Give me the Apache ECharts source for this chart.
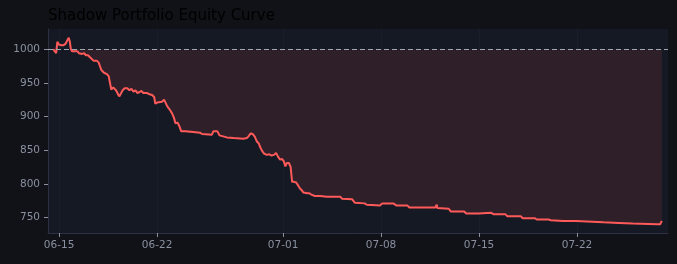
<!DOCTYPE html>
<html>
<head>
<meta charset="utf-8">
<script src="https://cdn.jsdelivr.net/npm/echarts@6/dist/echarts.min.js"></script>
<style>
html,body{margin:0;padding:0;background:#111217;}
#c{width:677px;height:264px;}
</style>
</head>
<body>
<div id="c"></div>
<script>
const title = 'Shadow Portfolio Equity Curve';
const baseline = 1000;
const times = [
'2025-06-14 14:00','2025-06-14 16:30','2025-06-14 19:00','2025-06-14 21:00','2025-06-14 23:30',
'2025-06-15 02:00','2025-06-15 04:00','2025-06-15 07:30','2025-06-15 11:00','2025-06-15 14:00',
'2025-06-15 16:30','2025-06-15 18:30','2025-06-15 20:00','2025-06-15 22:00','2025-06-16 01:30',
'2025-06-16 04:00','2025-06-16 07:30','2025-06-16 10:00','2025-06-16 12:00','2025-06-16 15:30',
'2025-06-16 19:00','2025-06-16 22:00','2025-06-17 01:30','2025-06-17 05:00','2025-06-17 07:30',
'2025-06-17 11:00','2025-06-17 16:30','2025-06-17 20:00','2025-06-17 22:00','2025-06-18 00:30',
'2025-06-18 03:00','2025-06-18 05:00','2025-06-18 07:30','2025-06-18 10:00','2025-06-18 13:00',
'2025-06-18 15:30','2025-06-18 17:30','2025-06-18 21:00','2025-06-19 00:30','2025-06-19 03:00',
'2025-06-19 05:00','2025-06-19 07:30','2025-06-19 10:00','2025-06-19 13:00','2025-06-19 16:30',
'2025-06-19 21:00','2025-06-20 00:30','2025-06-20 04:00','2025-06-20 07:30','2025-06-20 11:00',
'2025-06-20 14:00','2025-06-20 17:30','2025-06-20 21:00','2025-06-21 00:30','2025-06-21 06:30',
'2025-06-21 11:00','2025-06-21 15:30','2025-06-21 19:00','2025-06-21 21:00','2025-06-22 00:30',
'2025-06-22 08:30','2025-06-22 12:00','2025-06-22 14:00','2025-06-22 17:30','2025-06-22 22:00',
'2025-06-23 01:30','2025-06-23 05:00','2025-06-23 07:30','2025-06-23 11:00','2025-06-23 14:00',
'2025-06-23 17:30','2025-06-24 00:30','2025-06-24 14:00','2025-06-25 01:30','2025-06-25 05:00',
'2025-06-25 22:00','2025-06-26 00:30','2025-06-26 07:30','2025-06-26 11:00','2025-06-26 13:00',
'2025-06-26 23:30','2025-06-27 11:00','2025-06-28 04:00','2025-06-28 10:00','2025-06-28 13:00',
'2025-06-28 16:30','2025-06-28 20:00','2025-06-28 23:30','2025-06-29 03:00','2025-06-29 06:30',
'2025-06-29 08:30','2025-06-29 12:00','2025-06-29 15:30','2025-06-29 20:00','2025-06-30 00:30',
'2025-06-30 04:00','2025-06-30 08:30','2025-06-30 12:00','2025-06-30 15:30','2025-06-30 19:00',
'2025-06-30 22:30','2025-07-01 01:30','2025-07-01 04:00','2025-07-01 06:30','2025-07-01 10:00',
'2025-07-01 13:00','2025-07-01 15:30','2025-07-01 19:00','2025-07-01 22:30','2025-07-02 01:30',
'2025-07-02 05:00','2025-07-02 08:30','2025-07-02 11:00','2025-07-02 14:00','2025-07-02 17:30',
'2025-07-02 21:00','2025-07-03 00:30','2025-07-03 06:30','2025-07-03 15:30','2025-07-04 03:00',
'2025-07-05 02:00','2025-07-05 05:00','2025-07-05 22:30','2025-07-06 03:00','2025-07-06 20:00',
'2025-07-06 23:30','2025-07-07 22:30','2025-07-08 02:00','2025-07-08 21:00','2025-07-09 02:00',
'2025-07-09 21:00','2025-07-10 00:30','2025-07-11 21:00','2025-07-11 23:30','2025-07-12 00:30',
'2025-07-12 20:00','2025-07-12 23:30','2025-07-13 22:30','2025-07-14 02:00','2025-07-14 23:30',
'2025-07-15 02:00','2025-07-15 21:00','2025-07-16 00:30','2025-07-16 21:00','2025-07-17 00:30',
'2025-07-17 23:30','2025-07-18 03:00','2025-07-18 23:30','2025-07-19 03:00','2025-07-19 23:30',
'2025-07-20 03:00','2025-07-21 00:30','2025-07-21 22:30','2025-07-22 00:30','2025-07-23 21:00',
'2025-07-24 23:30','2025-07-25 23:30','2025-07-26 02:00','2025-07-27 16:30','2025-07-27 22:30',
'2025-07-28 00:30','2025-07-28 01:30'
];
const equity = [
1000,997,994,1011,1007,
1005,1006,1006,1008,1013,
1017,1011,1001,997,997,
996,997,994,996,993,
994,991,991,988,986,
983,983,980,975,969,
970,965,967,963,960,
949,940,943,940,937,
933,930,934,939,942,
942,939,941,937,939,
935,936,938,935,935,
933,932,929,919,921,
922,925,923,915,910,
905,898,890,891,886,
878,878,877,876,874,
873,878,878,872,870,
869,868,867,868,871,
875,874,870,863,860,
855,849,845,843,844,
842,843,846,840,836,
837,833,826,831,831,
825,803,803,802,798,
793,790,787,789,786,
786,784,782,782,781,
781,778,777,772,771,
769,768,771,771,768,
768,765,765,769,764,
763,759,759,756,756,
757,757,755,755,752,
752,749,749,747,747,
746,745,745,743,743,
742,741,740,740,740,
741,745
];
const xTickLabels = ['2025-06-15','2025-06-22','2025-07-01','2025-07-08','2025-07-15','2025-07-22'];
const yTickLabels = [750,800,850,900,950,1000];
const xRange = ['2025-06-14 05:00','2025-07-28 12:00'];

const toTs = s => echarts.time.parse(s).getTime();
const xTicks = xTickLabels.map(toTs);
const linePts = times.map((t,i)=>[toTs(t), equity[i]]);
const fillPts = times.map((t,i)=>[toTs(t), Math.min(baseline, equity[i])]);
const pad = n => (n<10?'0':'')+n;
const fmt = v => { const d = new Date(v); return pad(d.getMonth()+1)+'-'+pad(d.getDate()); };

const chart = echarts.init(document.getElementById('c'), null, {renderer:'canvas'});
const axisCol = '#8a90a0';
chart.setOption({
  backgroundColor:'#111217',
  animation:false,
  title:{text:title,left:48,top:9,padding:0,textStyle:{color:'#000000',fontSize:15,fontWeight:'normal',fontFamily:'DejaVu Sans'}},
  grid:{left:48,right:9,top:29,bottom:31,show:true,backgroundColor:'#151923',borderWidth:0},
  xAxis:{
    type:'value',min:toTs(xRange[0]),max:toTs(xRange[1]),
    axisLine:{show:true,lineStyle:{color:'#2c3040'}},
    axisTick:{show:true,length:4,lineStyle:{color:axisCol},customValues:xTicks},
    axisLabel:{color:axisCol,fontSize:10.5,fontFamily:'DejaVu Sans',margin:7,customValues:xTicks,formatter:fmt},
    splitLine:{show:false}
  },
  yAxis:{
    type:'value',min:727,max:1030,
    axisLine:{show:true,lineStyle:{color:'#2c3040'}},
    axisTick:{show:true,length:4,lineStyle:{color:axisCol},customValues:yTickLabels},
    axisLabel:{color:axisCol,fontSize:10.5,fontFamily:'DejaVu Sans',margin:8,customValues:yTickLabels,formatter:v=>String(v)},
    splitLine:{show:false}
  },
  series:[
    {type:'line',name:'grid',data:[],symbol:'none',silent:true,z:0,
     markLine:{z:0,silent:true,symbol:'none',label:{show:false},animation:false,
       data:xTicks.map(t=>({xAxis:t,lineStyle:{color:'#1a1e2a',type:'solid',width:1}}))}},
    {type:'line',name:'fill',data:fillPts,symbol:'none',silent:true,
     lineStyle:{opacity:0,width:0},areaStyle:{color:'#2e1f28',opacity:1,origin:baseline},z:1},
    {type:'line',name:'equity',data:linePts,symbol:'none',z:3,
     lineStyle:{color:'#ff5a5a',width:2},
     markLine:{silent:true,symbol:'none',label:{show:false},animation:false,
       data:[{yAxis:baseline,lineStyle:{color:'#a3a7b3',type:[5,3],width:1}}]}}
  ]
});
</script>
</body>
</html>
